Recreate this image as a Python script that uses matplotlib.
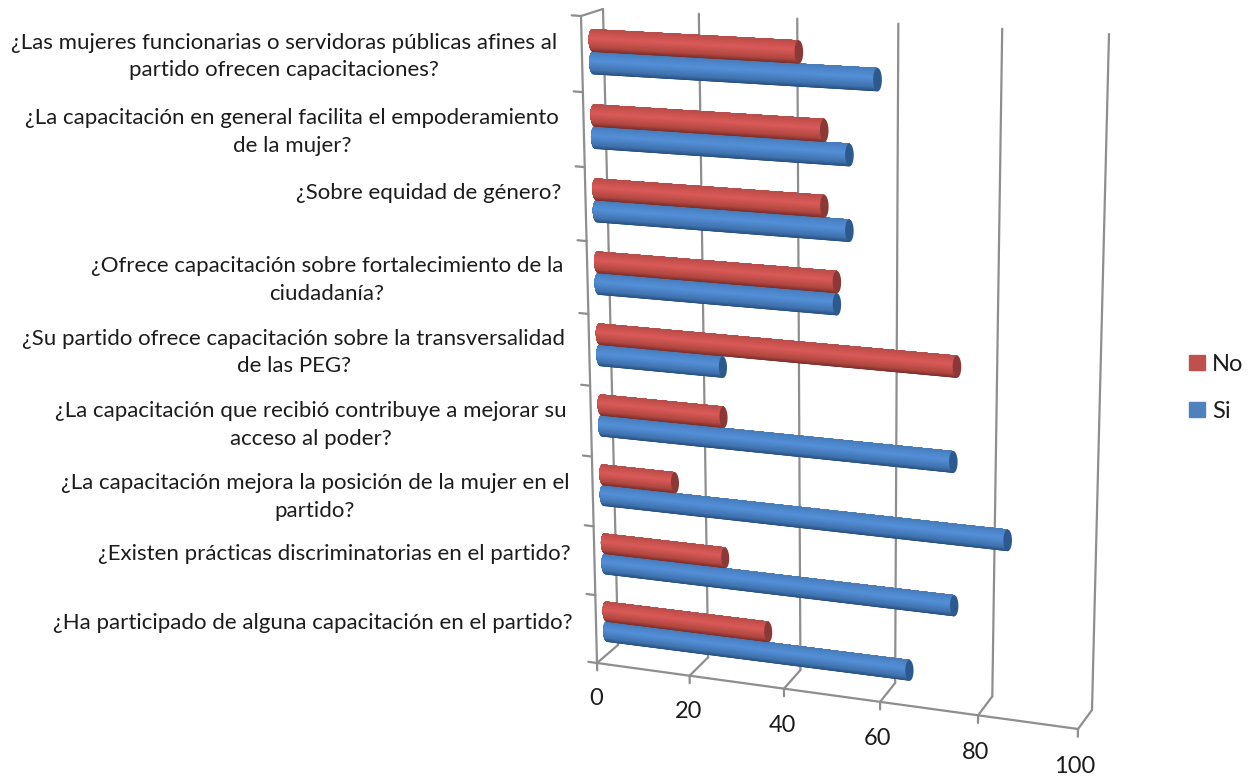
import numpy as np
import matplotlib
matplotlib.use('Agg')
import matplotlib.pyplot as plt
from matplotlib.colors import LinearSegmentedColormap
from matplotlib.patches import Patch
from matplotlib.transforms import Transform

# Categories from bottom to top, as on the chart's category axis
categories = [
    '¿Ha participado de alguna capacitación en el partido?',
    '¿Existen prácticas discriminatorias en el partido?',
    '¿La capacitación mejora la posición de la mujer en el\npartido?',
    '¿La capacitación que recibió contribuye a mejorar su\nacceso al poder?',
    '¿Su partido ofrece capacitación sobre la transversalidad\nde las PEG?',
    '¿Ofrece capacitación sobre fortalecimiento de la\nciudadanía?',
    '¿Sobre equidad de género?',
    '¿La capacitación en general facilita el empoderamiento\nde la mujer?',
    '¿Las mujeres funcionarias o servidoras públicas afines al\npartido ofrecen capacitaciones?',
]
si_values = [64.5, 73.5, 84, 73, 26, 49.5, 52, 52, 57.5]
no_values = [35, 26, 15.5, 26, 73.5, 49.5, 47, 47, 42]
value_ticks = [0, 20, 40, 60, 80, 100]

V_MAX = 100
N_CAT = len(categories)

# Pixel corners of each plane: (v=0,c=0), (v=max,c=0), (v=0,c=max), (v=max,c=max)
FRONT_CORNERS = [(597, 663), (1078, 729), (581, 16), (1095, 53)]
BACK_CORNERS = [(618, 645), (1092, 710), (603, 9), (1109, 34)]
BAR_CORNERS = [(607.5, 654), (1085, 716), (592, 12.5), (1102, 39)]


class Plane(Transform):
    """Maps (value, category position) to pixels on one plane of the 3D box."""
    input_dims = 2
    output_dims = 2
    is_separable = False
    has_inverse = False

    def __init__(self, corners):
        super().__init__()
        src = [(0, 0), (1, 0), (0, 1), (1, 1)]
        A, b = [], []
        for (u, w), (x, y) in zip(src, corners):
            A.append([u, w, 1, 0, 0, 0, -u * x, -w * x])
            A.append([0, 0, 0, u, w, 1, -u * y, -w * y])
            b += [x, y]
        h = np.linalg.solve(np.array(A, float), np.array(b, float))
        self.h = np.append(h, 1).reshape(3, 3)

    def transform_non_affine(self, values):
        values = np.asarray(values, float)
        q = np.column_stack([values[:, 0] / V_MAX, values[:, 1] / N_CAT, np.ones(len(values))])
        p = q @ self.h.T
        return p[:, :2] / p[:, 2:]


plt.rcParams['font.family'] = ['Lato', 'DejaVu Sans']

fig = plt.figure(figsize=(12.58, 7.78), dpi=100)
ax = fig.add_axes([0, 0, 1, 1])
ax.set_xlim(0, 1258)
ax.set_ylim(778, 0)
ax.autoscale(False)
ax.axis('off')

front_plane = Plane(FRONT_CORNERS)
back_plane = Plane(BACK_CORNERS)
front = front_plane + ax.transData
back = back_plane + ax.transData
bars = Plane(BAR_CORNERS) + ax.transData

GRID = '#8e8e8e'
TEXT = '#1c1c1c'
line = dict(color=GRID, lw=1.6, zorder=1, solid_capstyle='round')


def depth_line(v, c):
    # line that runs from the front plane to the back plane at one (v, c)
    p = np.array([[v, c]], float)
    x0, y0 = front_plane.transform(p)[0]
    x1, y1 = back_plane.transform(p)[0]
    ax.plot([x0, x1], [y0, y1], **line)


# walls and floor
for v in value_ticks:
    ax.plot([v, v], [0, N_CAT], transform=back, **line)
    depth_line(v, 0)
    ax.plot([v, v], [0, -0.11], transform=front, **line)
    ax.text(v - 0.4, -0.54, str(v), transform=front, ha='center', va='center', fontsize=17, color=TEXT)
ax.plot([0, V_MAX], [0, 0], transform=front, **line)
ax.plot([0, 0], [0, N_CAT], transform=front, **line)
depth_line(0, N_CAT)
for c in range(N_CAT + 1):
    ax.plot([0, -1.9], [c, c], transform=front, **line)

red_cmap = LinearSegmentedColormap.from_list('red', [
    (0, '#7a2e2c'), (0.18, '#b0463f'), (0.6, '#da5b59'), (0.88, '#c64f4c'), (1, '#b24f4c')])
blue_cmap = LinearSegmentedColormap.from_list('blue', [
    (0, '#274f7f'), (0.18, '#3f72ae'), (0.6, '#5490d8'), (0.88, '#4a83c6'), (1, '#4a7cb6')])

RADIUS = 0.15
CAP = 0.85  # half width of the cylinder's end, in value units
N_STRIPS = 28
t = np.linspace(-np.pi / 2, np.pi / 2, N_STRIPS + 1)


def draw_bar(value, centre, cmap, cap_color, z):
    s = np.sin(t)
    left = -CAP * np.cos(t)
    # each strip also covers everything above it, the next one paints over, so no seams show
    for j in range(N_STRIPS):
        xs = np.concatenate([left[j:], [value, value]])
        ys = centre + RADIUS * np.concatenate([s[j:], [1, s[j]]])
        ax.fill(xs, ys, transform=bars, color=cmap((s[j] + s[j + 1]) / 4 + 0.5), lw=0, zorder=z)
    a = np.linspace(0, 2 * np.pi, 50)
    ax.fill(value + CAP * np.cos(a), centre + RADIUS * np.sin(a), transform=bars,
            color=cap_color, lw=0, zorder=z + 0.5)


for i in range(N_CAT):
    draw_bar(si_values[i], i + 0.5 - 0.17, blue_cmap, '#2c5a8f', 2 + i * 0.01)
    draw_bar(no_values[i], i + 0.5 + 0.13, red_cmap, '#8c3836', 3 + i * 0.01)
    # lower labels sit a little further down than the axis spacing gives
    label_c = i + 0.5 + 0.26 - 0.07 * max(0, 4 - i) / 4
    ax.text(-5.0, label_c, categories[i], transform=front, ha='right', va='top',
            multialignment='center', fontsize=16.0, linespacing=1.47, color=TEXT)

handles = [Patch(color='#c0504d'), Patch(color='#4f81bd')]
ax.legend(handles, ['No', 'Si'], loc='center left', bbox_to_anchor=(1189 / 1258, 1 - 388 / 778),
          frameon=False, fontsize=17, handlelength=0.68, handleheight=0.6,
          labelspacing=1.1, handletextpad=0.3, borderpad=0, borderaxespad=0, labelcolor=TEXT)

fig.savefig('out.png', dpi=100)
